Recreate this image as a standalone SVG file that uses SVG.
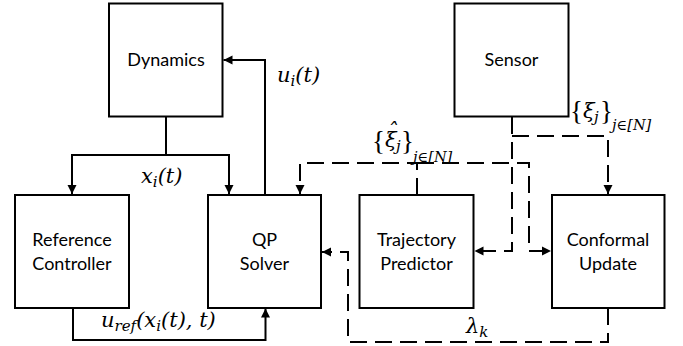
<svg xmlns="http://www.w3.org/2000/svg" width="683" height="346" viewBox="0 0 683 346">
<defs>
<marker id="arr" markerUnits="userSpaceOnUse" markerWidth="10" markerHeight="10" refX="9" refY="5" orient="auto">
<path d="M0,0.5 L9,5 L0,9.5 z" fill="#000"/>
</marker>
<style>
.box{fill:#fff;stroke:#000;stroke-width:2}
.lbl{font-family:Lato,"Liberation Sans",sans-serif;font-size:18px;fill:#000;text-anchor:middle}
.math{font-family:"DejaVu Serif","Liberation Serif",serif;font-style:italic;font-size:21px;fill:#000}
.up{font-family:"Liberation Serif",serif;font-style:normal;font-size:27px}
.sub{font-size:15px}
.ss{font-size:14.5px}
.c{fill:none;stroke:#000;stroke-width:2}
.d{fill:none;stroke:#000;stroke-width:2;stroke-dasharray:17 8}
</style>
</defs>
<rect width="683" height="346" fill="#fff"/>
<g id="connectors">
<path class="c" d="M166 117 V155 H72 V194" marker-end="url(#arr)"/>
<path class="c" d="M166 155 H229 V194" marker-end="url(#arr)"/>
<path class="c" d="M265 195 V60 H223.5" marker-end="url(#arr)"/>
<path class="c" d="M73 308 V340 H265.5 V308.5" marker-end="url(#arr)"/>
<path class="d" d="M512 117 V251 H474.5" marker-end="url(#arr)"/>
<path class="d" d="M512 136 H608 V194" marker-end="url(#arr)"/>
<path class="d" d="M417 195 V163 H300 V194" marker-end="url(#arr)"/>
<path class="d" d="M417 163 H529 V251 H551" marker-end="url(#arr)"/>
<path class="d" d="M608 308 V342 H348 V252 H322" marker-end="url(#arr)"/>
</g>
<g id="labels">
<text class="math" x="277" y="82">u<tspan class="sub" dy="4">i</tspan><tspan dy="-4">(t)</tspan></text>
<text class="math" x="141" y="183">x<tspan class="sub" dy="4">i</tspan><tspan dy="-4">(t)</tspan></text>
<text class="math"><tspan class="up" x="372" y="150">{</tspan><tspan x="385" y="147">ξ</tspan><tspan x="387" y="138">ˆ</tspan><tspan class="sub" x="396" y="151">j</tspan><tspan class="up" x="401" y="150">}</tspan><tspan class="ss" x="413" y="162">j∈[N]</tspan></text>
<text class="math"><tspan class="up" x="570" y="120">{</tspan><tspan x="583" y="118">ξ</tspan><tspan class="sub" x="594" y="122">j</tspan><tspan class="up" x="600" y="120">}</tspan><tspan class="ss" x="612" y="130">j∈[N]</tspan></text>
<text class="math" x="101" y="327">u<tspan class="sub" dy="4">ref</tspan><tspan dy="-4">(x</tspan><tspan class="sub" dy="4">i</tspan><tspan dy="-4">(t), t)</tspan></text>
<text class="math" x="466" y="333">λ<tspan class="sub" dy="4">k</tspan></text>
</g>
<g id="dynamics"><rect class="box" x="109" y="3.5" width="113.5" height="113"/><text class="lbl" x="166" y="66">Dynamics</text></g>
<g id="sensor"><rect class="box" x="454.5" y="3.5" width="114" height="113"/><text class="lbl" x="511.5" y="66">Sensor</text></g>
<g id="reference-controller"><rect class="box" x="15" y="195" width="114" height="113"/><text class="lbl" x="72" y="246">Reference</text><text class="lbl" x="72" y="270">Controller</text></g>
<g id="qp-solver"><rect class="box" x="208" y="195" width="113" height="113"/><text class="lbl" x="264.5" y="246">QP</text><text class="lbl" x="264.5" y="270">Solver</text></g>
<g id="trajectory-predictor"><rect class="box" x="359.5" y="195" width="114" height="113"/><text class="lbl" x="416.5" y="246">Trajectory</text><text class="lbl" x="416.5" y="270">Predictor</text></g>
<g id="conformal-update"><rect class="box" x="552" y="195" width="112.5" height="113"/><text class="lbl" x="608" y="246">Conformal</text><text class="lbl" x="608" y="270">Update</text></g>
</svg>
